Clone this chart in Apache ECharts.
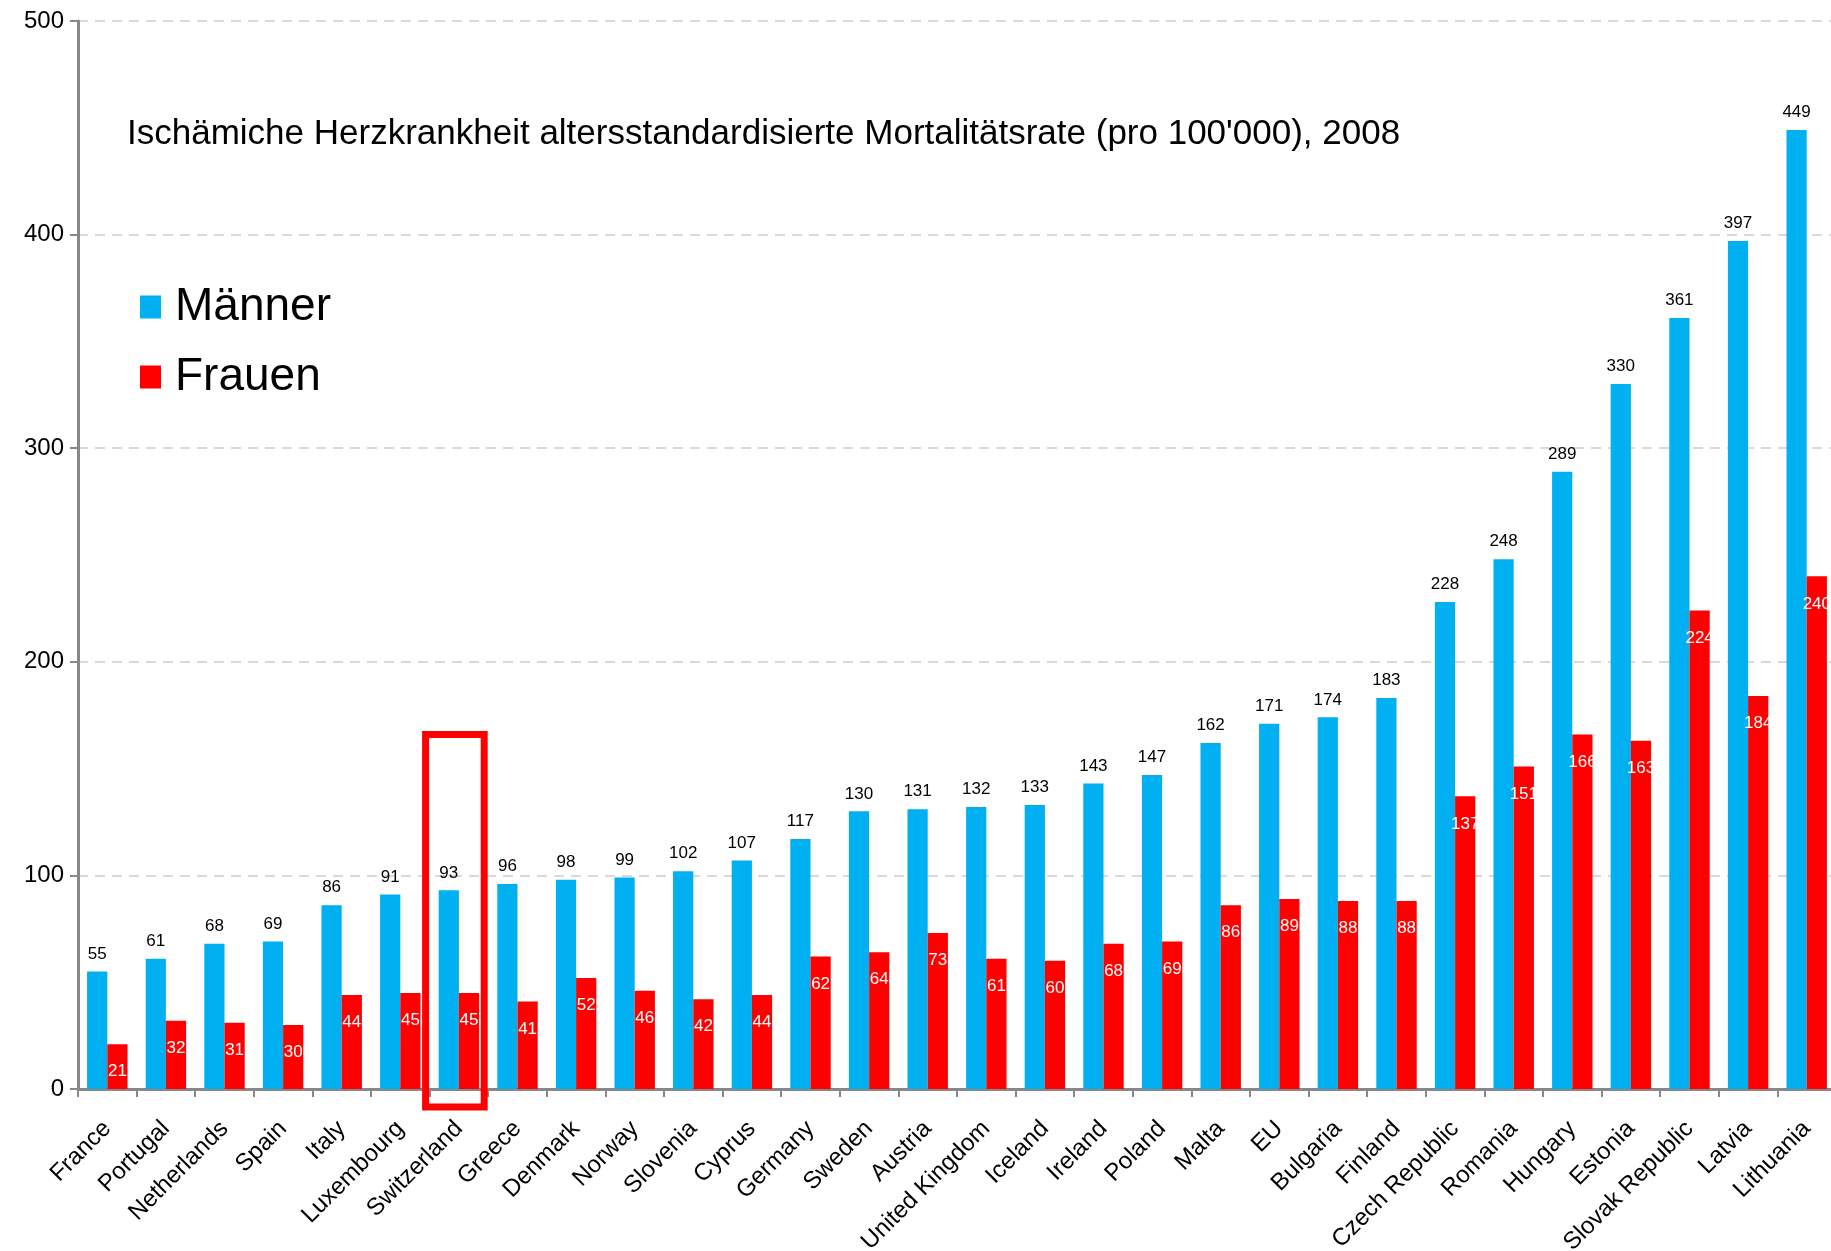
<!DOCTYPE html>
<html>
<head>
<meta charset="utf-8">
<script src="https://cdn.jsdelivr.net/npm/echarts@6/dist/echarts.min.js"></script>
<style>
  html, body { margin: 0; padding: 0; background: #ffffff; }
  #chart { width: 1831px; height: 1251px; }
</style>
</head>
<body>
<div id="chart"></div>
<script>
// Ischaemic heart disease, age-standardised mortality per 100'000, 2008
const countries = ['France', 'Portugal', 'Netherlands', 'Spain', 'Italy', 'Luxembourg', 'Switzerland',
  'Greece', 'Denmark', 'Norway', 'Slovenia', 'Cyprus', 'Germany', 'Sweden', 'Austria',
  'United Kingdom', 'Iceland', 'Ireland', 'Poland', 'Malta', 'EU', 'Bulgaria', 'Finland',
  'Czech Republic', 'Romania', 'Hungary', 'Estonia', 'Slovak Republic', 'Latvia', 'Lithuania'];

const maenner = [55, 61, 68, 69, 86, 91, 93, 96, 98, 99, 102, 107, 117, 130, 131, 132, 133,
  143, 147, 162, 171, 174, 183, 228, 248, 289, 330, 361, 397, 449];

const frauen = [21, 32, 31, 30, 44, 45, 45, 41, 52, 46, 42, 44, 62, 64, 73, 61, 60,
  68, 69, 86, 89, 88, 88, 137, 151, 166, 163, 224, 184, 240];

const yTicks = [0, 100, 200, 300, 400, 500];

const titleText = "Ischämiche Herzkrankheit altersstandardisierte Mortalitätsrate (pro 100'000), 2008";
const seriesNames = ['Männer', 'Frauen'];

// highlighted country and the value the frame reaches up to
const highlightCountry = 'Switzerland';
const highlightTop = 166;

const FONT = '"Liberation Sans", Arial, sans-serif';
const AXIS_GREY = '#888888';

const chart = echarts.init(document.getElementById('chart'), null, { renderer: 'canvas' });

const option = {
  backgroundColor: '#ffffff',
  animation: false,
  textStyle: { fontFamily: FONT },
  title: {
    text: titleText,
    left: 122,
    top: 112,
    textStyle: { fontFamily: FONT, fontSize: 35, fontWeight: 'normal', color: '#000000' }
  },
  legend: {
    data: seriesNames,
    orient: 'vertical',
    left: 135,
    top: 279,
    icon: 'rect',
    itemWidth: 21,
    itemHeight: 23,
    itemGap: 24,
    textStyle: { fontFamily: FONT, fontSize: 46, color: '#000000', padding: [0, 0, 0, 9] }
  },
  grid: { left: 78, right: -5, top: 21, bottom: 162, containLabel: false, outerBoundsMode: 'none' },
  xAxis: {
    type: 'category',
    data: countries,
    axisLine: { lineStyle: { color: AXIS_GREY, width: 3 } },
    axisTick: { show: true, length: 8, alignWithLabel: false, lineStyle: { color: AXIS_GREY, width: 2 } },
    axisLabel: {
      interval: 0,
      rotate: 45,
      margin: 36,
      fontFamily: FONT,
      fontSize: 24,
      color: '#000000'
    }
  },
  yAxis: {
    type: 'value',
    min: yTicks[0],
    max: yTicks[yTicks.length - 1],
    interval: yTicks[1] - yTicks[0],
    axisLine: { show: true, lineStyle: { color: AXIS_GREY, width: 3 } },
    axisTick: { show: true, length: 8, lineStyle: { color: AXIS_GREY, width: 2 } },
    axisLabel: { margin: 14, fontFamily: FONT, fontSize: 24, color: '#000000' },
    splitLine: { show: true, lineStyle: { color: '#d9d9d9', width: 2, type: [10, 7] } }
  },
  series: [
    {
      name: seriesNames[0],
      type: 'bar',
      data: maenner,
      barGap: '0%',
      barCategoryGap: '31%',
      itemStyle: { color: '#00b0f0' },
      label: {
        show: true,
        position: 'top',
        distance: 9,
        fontFamily: FONT,
        fontSize: 17,
        color: '#000000'
      }
    },
    {
      name: seriesNames[1],
      type: 'bar',
      data: frauen,
      barGap: '0%',
      barCategoryGap: '31%',
      itemStyle: { color: '#ff0000' },
      label: {
        show: true,
        position: 'insideTop',
        distance: 19,
        fontFamily: FONT,
        fontSize: 17,
        color: '#ffffff'
      }
    }
  ]
};

chart.setOption(option);

// Red frame around the highlighted country, placed from the axes
function drawHighlight() {
  const cx = chart.convertToPixel({ xAxisIndex: 0 }, highlightCountry);
  const band = chart.convertToPixel({ xAxisIndex: 0 }, countries[1]) - chart.convertToPixel({ xAxisIndex: 0 }, countries[0]);
  const yTop = chart.convertToPixel({ yAxisIndex: 0 }, highlightTop);
  const yZero = chart.convertToPixel({ yAxisIndex: 0 }, 0);
  chart.setOption({
    graphic: [{
      type: 'rect',
      z: 100,
      shape: { x: cx - band / 2 - 4, y: yTop, width: band, height: yZero + 18 - yTop },
      style: { fill: 'none', stroke: '#ff0000', lineWidth: 7 }
    }]
  });
}
drawHighlight();
</script>
</body>
</html>
